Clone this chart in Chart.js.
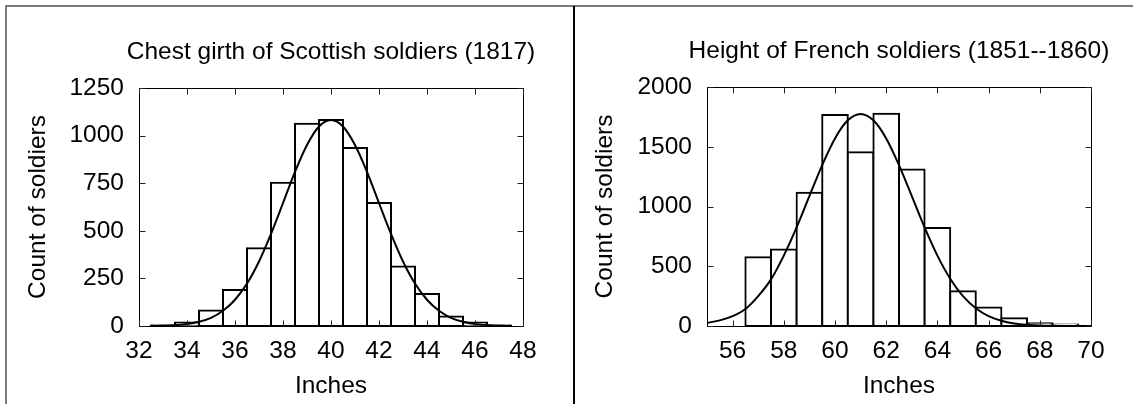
<!DOCTYPE html>
<html>
<head>
<meta charset="utf-8">
<script src="https://cdn.jsdelivr.net/npm/chart.js@4.4.1/dist/chart.umd.min.js"></script>
<style>
  html, body { margin: 0; padding: 0; background: #fff; }
  #wrap { position: relative; width: 1133px; height: 404px; overflow: hidden; }
  .panel { position: absolute; top: 0; height: 404px; }
  .rule { position: absolute; }
</style>
</head>
<body>
<div id="wrap">
  <div class="panel" style="left:0;width:662px"><canvas id="chest"></canvas></div>
  <div class="panel" style="left:575px;width:648px"><canvas id="french"></canvas></div>
  <div class="rule" style="top:5px;left:5px;right:0;height:2px;background:#7a7a7a"></div>
  <div class="rule" style="top:5px;left:5px;bottom:0;width:2px;background:#7a7a7a"></div>
  <div class="rule" style="top:6px;left:573px;bottom:0;width:2px;background:#000"></div>
</div>
<script>
// Chest girth of Scottish soldiers (1817)
let chestInches = [33, 34, 35, 36, 37, 38, 39, 40, 41, 42, 43, 44, 45, 46, 47];
let chestCounts = [3, 19, 81, 189, 409, 753, 1062, 1082, 935, 646, 313, 168, 50, 18, 3];
let chestCurveX = [32.5, 33, 33.5, 34, 34.5, 35, 35.5, 36, 36.5, 37, 37.5, 38, 38.5, 39, 39.5, 40,
  40.5, 41, 41.5, 42, 42.5, 43, 43.5, 44, 44.5, 45, 45.5, 46, 46.5, 47, 47.5];
let chestCurveY = [0.8, 2, 4.7, 10.5, 22, 43, 80, 138, 223, 339, 484, 646, 810, 951, 1048, 1082,
  1048, 951, 810, 646, 484, 339, 223, 138, 80, 43, 22, 10.5, 4.7, 2, 0.8];
let chestXTicks = [32, 34, 36, 38, 40, 42, 44, 46, 48];
let chestYTicks = [0, 250, 500, 750, 1000, 1250];

// Height of French soldiers (1851--1860)
let frenchInches = [57, 58, 59, 60, 61, 62, 63, 64, 65, 66, 67, 68, 69];
let frenchCounts = [576, 641, 1116, 1765, 1455, 1776, 1309, 820, 291, 154, 65, 23, 12];
let frenchCurveX = [55, 55.5, 56, 56.5, 57, 57.5, 58, 58.5, 59, 59.5, 60, 60.5, 61, 61.5, 62, 62.5,
  63, 63.5, 64, 64.5, 65, 65.5, 66, 66.5, 67, 67.5, 68, 68.5, 69, 69.5, 70];
let frenchCurveY = [26, 47, 82, 142, 250, 390, 589, 825, 1087, 1347, 1570, 1721, 1775, 1721, 1570, 1347,
  1087, 825, 589, 396, 250, 149, 83, 44, 21.5, 10, 4.4, 1.8, 0.7, 0.25, 0.1];
let frenchXTicks = [56, 58, 60, 62, 64, 66, 68, 70];
let frenchYTicks = [0, 500, 1000, 1500, 2000];

const FS = 24.5;
Chart.defaults.font.family = '"Liberation Sans", Arial, sans-serif';
Chart.defaults.font.size = FS;
Chart.defaults.color = '#000';

// gnuplot style border with inward ticks on all four sides
const frameTicks = {
  id: 'frameTicks',
  afterDraw(chart) {
    const {ctx, chartArea: a, scales: {x, y}} = chart;
    const l = Math.round(a.left) + 0.5, r = Math.round(a.right) + 0.5;
    const t = Math.round(a.top) + 0.5, b = Math.round(a.bottom) + 0.5;
    ctx.save();
    ctx.strokeStyle = '#000';
    ctx.lineWidth = 1;
    ctx.strokeRect(l, t, r - l, b - t);
    ctx.strokeStyle = '#222';
    ctx.beginPath();
    x.ticks.forEach(tk => {
      const px = Math.round(x.getPixelForValue(tk.value)) + 0.5;
      ctx.moveTo(px, b); ctx.lineTo(px, b - 6);
      ctx.moveTo(px, t); ctx.lineTo(px, t + 6);
    });
    y.ticks.forEach(tk => {
      const py = Math.round(y.getPixelForValue(tk.value)) + 0.5;
      ctx.moveTo(l, py); ctx.lineTo(l + 6, py);
      ctx.moveTo(r, py); ctx.lineTo(r - 6, py);
    });
    ctx.stroke();
    ctx.restore();
  }
};

function histChart(id, p) {
  const lh = FS * 1.2;
  return new Chart(document.getElementById(id), {
    type: 'bar',
    data: {
      datasets: [{
        type: 'line',
        data: p.curveX.map((v, i) => ({x: v, y: p.curveY[i]})),
        borderColor: '#000',
        borderWidth: 2,
        pointRadius: 0,
        cubicInterpolationMode: 'monotone',
        fill: false,
        order: 0
      }, {
        data: p.bins.map((v, i) => ({x: v, y: p.counts[i]})),
        backgroundColor: '#fff',
        borderColor: '#000',
        borderWidth: 2,
        borderSkipped: false,
        inflateAmount: 1,
        barPercentage: 1,
        categoryPercentage: 1,
        order: 1
      }]
    },
    options: {
      responsive: true,
      maintainAspectRatio: false,
      animation: false,
      layout: {padding: 0},
      plugins: {
        legend: {display: false},
        tooltip: {enabled: false},
        title: {
          display: true,
          text: p.title,
          font: {size: FS, weight: 'normal'},
          color: '#000',
          padding: {top: p.titleMid - lh / 2, bottom: p.plotTop - p.titleMid - lh / 2}
        }
      },
      scales: {
        x: {
          type: 'linear',
          min: p.xTicks[0] - p.xLead,
          max: p.xTicks[p.xTicks.length - 1],
          offset: false,
          grid: {display: false, drawTicks: false},
          border: {display: false},
          ticks: {padding: 351 - p.plotBottom - lh / 2, maxRotation: 0, autoSkip: false, callback: v => String(v)},
          afterBuildTicks: s => { s.ticks = p.xTicks.map(v => ({value: v})); },
          afterFit: s => { s.height = 404 - p.plotBottom; },
          title: {display: true, text: 'Inches', padding: {top: 0, bottom: 404 - 386.5 - lh / 2}}
        },
        y: {
          min: 0,
          max: p.yTicks[p.yTicks.length - 1],
          grid: {display: false, drawTicks: false},
          border: {display: false},
          ticks: {padding: 15, autoSkip: false, callback: v => String(v)},
          afterBuildTicks: s => { s.ticks = p.yTicks.map(v => ({value: v})); },
          afterFit: s => { s.width = p.plotLeft; },
          title: {display: true, text: 'Count of soldiers', padding: {top: p.yTitle - lh / 2, bottom: 0}}
        },
        // empty right-hand box, same width as the left axis, so the title centres over the plot
        yPad: {
          position: 'right',
          grid: {display: false, drawTicks: false},
          border: {display: false},
          ticks: {display: false},
          afterFit: s => { s.width = p.plotLeft; }
        }
      }
    },
    plugins: [frameTicks]
  });
}

histChart('chest', {
  title: 'Chest girth of Scottish soldiers (1817)',
  bins: chestInches, counts: chestCounts,
  curveX: chestCurveX, curveY: chestCurveY,
  xTicks: chestXTicks, yTicks: chestYTicks, xLead: 0,
  plotLeft: 139, plotTop: 88, plotBottom: 326,
  titleMid: 52, yTitle: 38
});

histChart('french', {
  title: 'Height of French soldiers (1851--1860)',
  bins: frenchInches, counts: frenchCounts,
  curveX: frenchCurveX, curveY: frenchCurveY,
  xTicks: frenchXTicks, yTicks: frenchYTicks, xLead: 1,
  plotLeft: 132, plotTop: 87, plotBottom: 326,
  titleMid: 51, yTitle: 30
});
</script>
</body>
</html>
